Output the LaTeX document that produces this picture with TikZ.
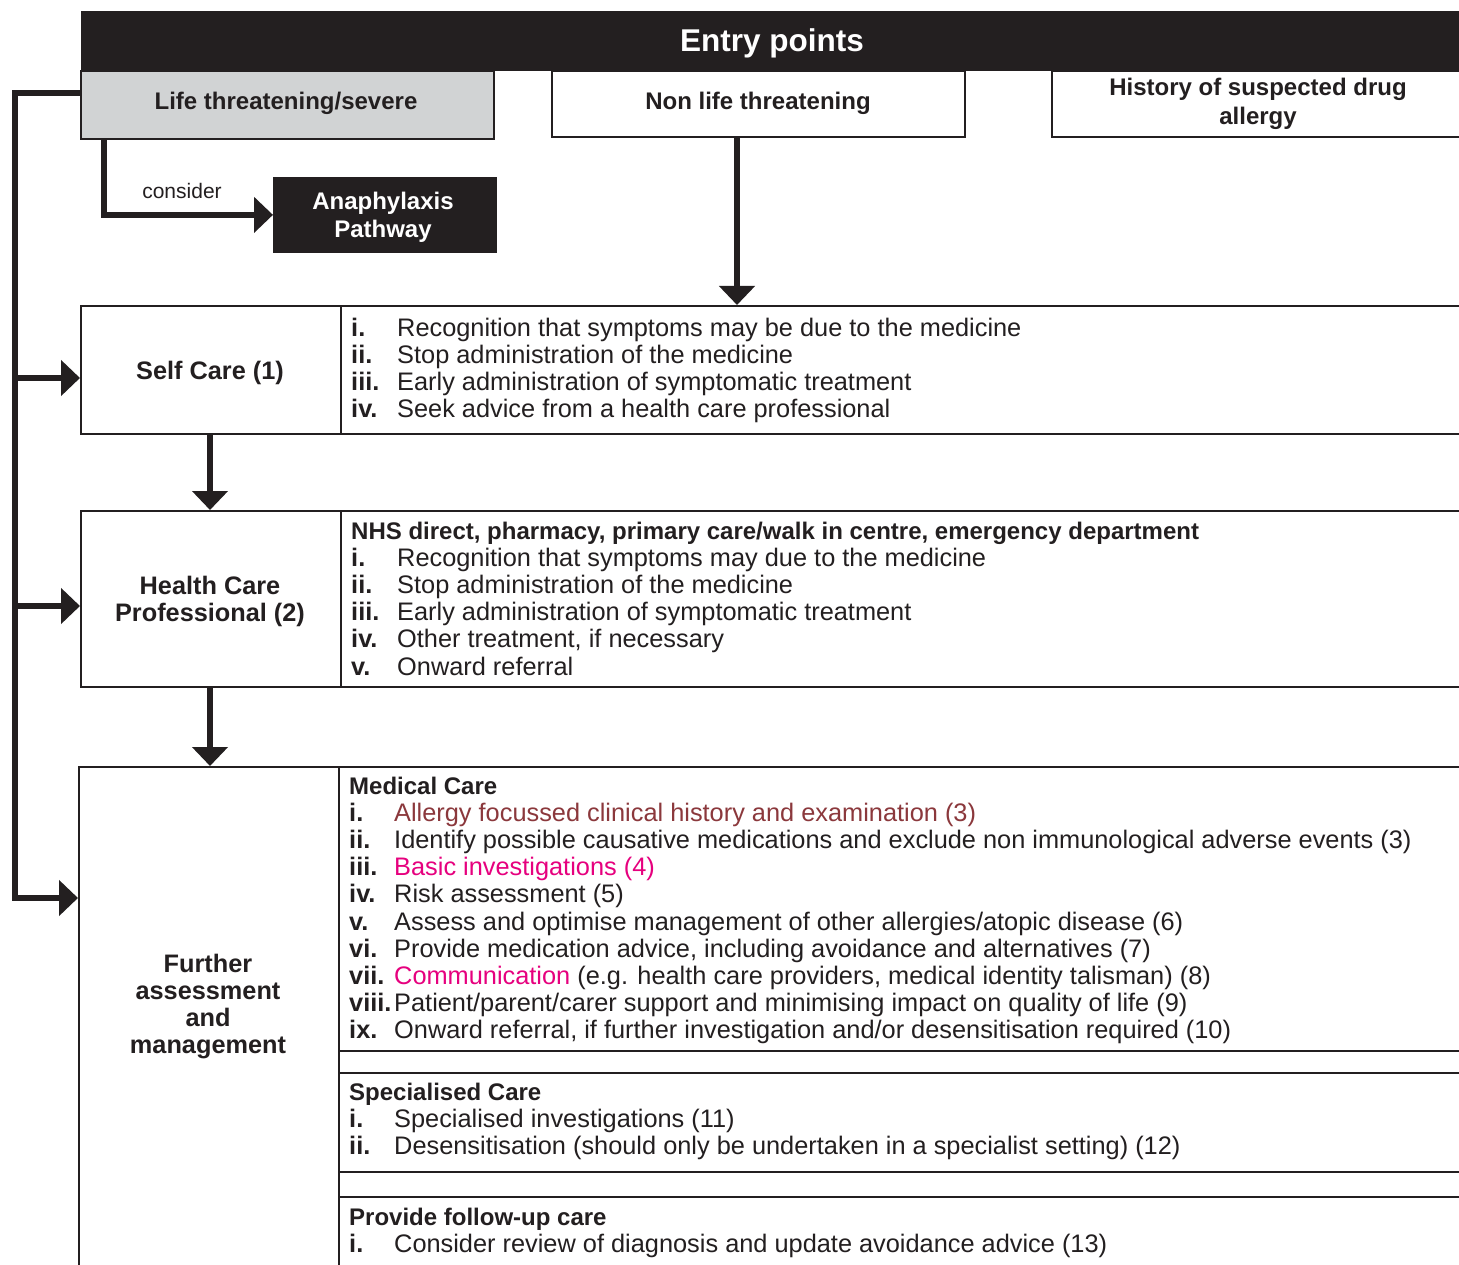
\documentclass[tikz,border=0pt]{standalone}
\usepackage{fontspec}
\setmainfont{Liberation Sans}
\usetikzlibrary{arrows.meta,calc}
\definecolor{ink}{HTML}{231F20}
\definecolor{dred}{HTML}{8B383C}
\definecolor{mag}{HTML}{E6007E}
\definecolor{lgray}{HTML}{D1D3D4}
\newcommand\rowit[2]{\textbf{#1}&#2\\}
\newcommand\bodyfont{\fontsize{25.35}{27.2}\selectfont}
\newcommand\labfont{\fontsize{24}{27.2}\selectfont\bfseries}
\newcommand\biglabfont{\fontsize{25.3}{27.2}\selectfont\bfseries}
\tikzset{
  box/.style={draw=ink, line width=1.8pt, inner sep=0pt, anchor=north west},
  lab/.style={inner sep=0pt, anchor=base, text=ink, font=\labfont},
  biglab/.style={lab, font=\biglabfont},
  lst/.style={inner sep=0pt, anchor=base west, text=ink, font=\bodyfont},
  conn/.style={draw=ink, line width=5.5pt},
  arr/.style={conn, -{Triangle[length=19pt,width=35pt]}}
}
\begin{document}
\begin{tikzpicture}[x=1pt,y=-1pt]
\clip (0,0) rectangle (1459,1265);
\fill[white] (0,0) rectangle (1459,1265);

% header
\node[box, draw=none, fill=ink, minimum width=1390pt, minimum height=60pt] (head) at (80,10) {};
\node[inner sep=0pt, anchor=base, text=white, font=\fontsize{31.5}{34}\selectfont\bfseries] (headt) at (772,52) {Entry points};

% entry boxes
\node[box, fill=lgray, minimum width=413pt, minimum height=68pt] (life) at (80,70) {};
\node[lab] (lifet) at (286,110) {Life threatening/severe};
\node[box, fill=white, minimum width=413pt, minimum height=66pt] (nonlife) at (551,70) {};
\node[lab] (nonlifet) at (758,110) {Non life threatening};
\node[box, fill=white, minimum width=420pt, minimum height=66pt] (hist) at (1051,70) {};
\node[lab] (histt) at (1258,96) {\begin{tabular}[t]{@{}c@{}}History of suspected drug\\[1.5pt] allergy\end{tabular}};

% anaphylaxis
\node[box, fill=ink, draw=ink, minimum width=222pt, minimum height=74pt] (anaph) at (273,177) {};
\node[lab, text=white] (anapht) at (383,210) {\begin{tabular}[t]{@{}c@{}}Anaphylaxis\\ Pathway\end{tabular}};
\node[inner sep=0pt, anchor=base, text=ink, font=\fontsize{21}{24}\selectfont] (cons) at (182,199) {consider};

% self care row
\node[box, minimum width=260pt, minimum height=128pt] (sleft) at (80,305) {};
\node[box, minimum width=1130pt, minimum height=128pt] (sright) at (340,305) {};
\node[biglab] (sleftt) at (210,379) {Self Care (1)};
\node[lst] (slist) at (351,336) {\begin{tabular}[t]{@{}p{46pt}@{}l@{}}
\rowit{i.}{Recognition that symptoms may be due to the medicine}
\rowit{ii.}{Stop administration of the medicine}
\rowit{iii.}{Early administration of symptomatic treatment}
\rowit{iv.}{Seek advice from a health care professional}
\end{tabular}};

% health care professional row
\node[box, minimum width=260pt, minimum height=176pt] (hleft) at (80,510) {};
\node[box, minimum width=1130pt, minimum height=176pt] (hright) at (340,510) {};
\node[biglab] (hleftt) at (210,594) {\begin{tabular}[t]{@{}c@{}}Health Care\\ Professional (2)\end{tabular}};
\node[lst] (hlist) at (351,539) {\begin{tabular}[t]{@{}p{46pt}@{}l@{}}
\multicolumn{2}{@{}l@{}}{\labfont NHS direct, pharmacy, primary care/walk in centre, emergency department}\\
\rowit{i.}{Recognition that symptoms may due to the medicine}
\rowit{ii.}{Stop administration of the medicine}
\rowit{iii.}{Early administration of symptomatic treatment}
\rowit{iv.}{Other treatment, if necessary}
\rowit{v.}{Onward referral}
\end{tabular}};

% further assessment
\node[box, minimum width=260pt, minimum height=520pt] (fleft) at (78,766) {};
\node[biglab] (fleftt) at (208,972) {\begin{tabular}[t]{@{}c@{}}Further\\ assessment\\ and\\ management\end{tabular}};
\node[box, minimum width=1132pt, minimum height=284pt] (med) at (338,766) {};
\node[box, minimum width=1132pt, minimum height=99pt] (spec) at (338,1072) {};
\node[box, minimum width=1132pt, minimum height=100pt] (fup) at (338,1196) {};
\node[lst] (mlist) at (349,794) {\begin{tabular}[t]{@{}p{45pt}@{}l@{}}
\multicolumn{2}{@{}l@{}}{\labfont Medical Care}\\
\rowit{i.}{\textcolor{dred}{Allergy focussed clinical history and examination (3)}}
\rowit{ii.}{Identify possible causative medications and exclude non immunological adverse events (3)}
\rowit{iii.}{\textcolor{mag}{Basic investigations (4)}}
\rowit{iv.}{Risk assessment (5)}
\rowit{v.}{Assess and optimise management of other allergies/atopic disease (6)}
\rowit{vi.}{Provide medication advice, including avoidance and alternatives (7)}
\rowit{vii.}{\textcolor{mag}{Communication} (e.g. health care providers, medical identity talisman) (8)}
\rowit{viii.}{Patient/parent/carer support and minimising impact on quality of life (9)}
\rowit{ix.}{Onward referral, if further investigation and/or desensitisation required (10)}
\end{tabular}};
\node[lst] (slist2) at (349,1100) {\begin{tabular}[t]{@{}p{45pt}@{}l@{}}
\multicolumn{2}{@{}l@{}}{\labfont Specialised Care}\\
\rowit{i.}{Specialised investigations (11)}
\rowit{ii.}{Desensitisation (should only be undertaken in a specialist setting) (12)}
\end{tabular}};
\node[lst] (flist) at (349,1225) {\begin{tabular}[t]{@{}p{45pt}@{}l@{}}
\multicolumn{2}{@{}l@{}}{\labfont Provide follow-up care}\\
\rowit{i.}{Consider review of diagnosis and update avoidance advice (13)}
\end{tabular}};

% connectors
\coordinate (t0) at (15,93);
\coordinate (t1) at (15,378);
\coordinate (t2) at (15,606);
\coordinate (t3) at (15,898);
\coordinate (cA) at (104,214);
\coordinate (cN) at (737,200);
\coordinate (cD) at (210,700);

\draw[conn] (life.west |- t0) -- (t0) -- (t3);
\draw[arr] ([yshift=-2.75pt]t3) |- (fleft.west |- t3);
\draw[arr] (t1) -- (sleft.west |- t1);
\draw[arr] (t2) -- (hleft.west |- t2);
\draw[arr] (life.south -| cA) |- (anaph.west);
\draw[arr] (nonlife.south -| cN) -- (sright.north -| cN);
\draw[arr] (sleft.south -| cD) -- (hleft.north -| cD);
\draw[arr] (hleft.south -| cD) -- (fleft.north -| cD);
\end{tikzpicture}
\end{document}
